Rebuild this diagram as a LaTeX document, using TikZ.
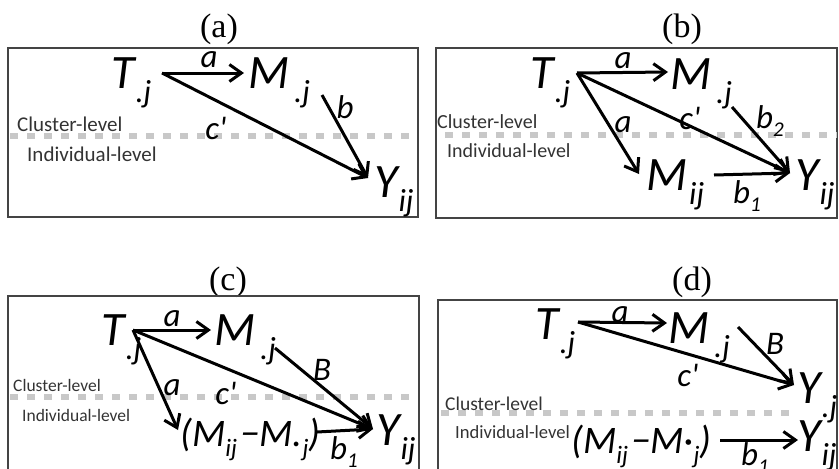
\documentclass[tikz,border=0pt]{standalone}
\usepackage{fontspec}
\setmainfont{Carlito}
\newfontfamily\titlefont{Liberation Serif}
\usetikzlibrary{arrows.meta}
\definecolor{framegray}{HTML}{444444}
\definecolor{dashgray}{HTML}{C8C8C8}
\definecolor{levelgray}{HTML}{333333}
\newcommand\vsub[3][1pt]{#2\kern#1\raisebox{-14pt}{\fontsize{32}{32}\selectfont #3}}
\newcommand\dsub[2]{#1\raisebox{-10pt}{\fontsize{25}{25}\selectfont #2}}
\newcommand\lsub[2]{#1\raisebox{-8pt}{\fontsize{21}{21}\selectfont #2}}
\newcommand\diffMM[1]{(\dsub{M}{ij}\kern3pt\textminus\dsub{M#1}{j})}
\tikzset{
  var/.style={anchor=base west, inner sep=0pt, font=\fontsize{48}{48}\selectfont\itshape},
  dvar/.style={anchor=base west, inner sep=0pt, font=\fontsize{39}{39}\selectfont\itshape},
  lbl/.style={inner sep=0pt, font=\fontsize{33}{33}\selectfont\itshape},
  lvl/.style={anchor=base west, inner sep=0pt, text=levelgray},
  ttl/.style={inner sep=0pt, font=\titlefont\fontsize{34}{34}\selectfont},
  frame/.style={draw=framegray, line width=2pt},
  sep/.style={draw=dashgray, line width=6pt, dash pattern=on 8pt off 9pt},
  arr/.style={line width=3pt, -{Straight Barb[length=12pt,width=17pt]}},
}
\begin{document}
\begin{tikzpicture}[x=1pt,y=-1pt]
\useasboundingbox (0,0) rectangle (839,469);
\clip (0,0) rectangle (839,469);
% ---------------- (a)
\node[ttl] (ta) at (219,29) {(a)};
\draw[frame] (8,48) rectangle (418,217);
\draw[sep] (10,136) -- (417,136);
\node[lvl, font=\fontsize{21}{21}\selectfont] (cla) at (17,131) {Cluster-level};
\node[lvl, font=\fontsize{21}{21}\selectfont] (ila) at (27,161) {Individual-level};
\node[var] (Ta) at (111,88) {\vsub{T}{.j}};
\node[var] (Ma) at (248,88) {\vsub[5pt]{M}{.j}};
\node[var] (Ya) at (374,197) {\vsub{Y}{ij}};
\coordinate (Ta-o) at (162,73);
\coordinate (Ma-i) at (244,73);
\coordinate (Ma-o) at (322,95);
\coordinate (Ya-i) at (368,178);
\draw[arr] (Ta-o) -- (Ma-i);
\draw[arr] (Ta-o) -- (Ya-i);
\draw[arr] (Ma-o) -- (Ya-i);
\node[lbl] (la-a) at (209,60) {a};
\node[lbl] (la-c) at (216,128) {c\textquotesingle};
\node[lbl] (la-b) at (345,107) {b};
% ---------------- (b)
\node[ttl] (tb) at (682,29) {(b)};
\draw[frame] (436,48) rectangle (837,218);
\draw[sep] (445,135) -- (837,135);
\node[lvl, font=\fontsize{20}{20}\selectfont] (clb) at (437,128) {Cluster-level};
\node[lvl, font=\fontsize{20}{20}\selectfont] (ilb) at (447,157) {Individual-level};
\node[var] (Tb) at (530,88) {\vsub{T}{.j}};
\node[var] (Mb) at (670,89) {\vsub[5pt]{M}{.j}};
\node[var] (Mib) at (646,190) {\vsub[2pt]{M}{ij}};
\node[var] (Yb) at (795,190) {\vsub{Y}{ij}};
\coordinate (Tb-o) at (577,73);
\coordinate (Mb-i) at (668,72);
\coordinate (Mb-o) at (732,107);
\coordinate (Mib-i) at (639,174);
\coordinate (Mib-o) at (714,175);
\coordinate (Yb-i) at (790,173);
\draw[arr] (Tb-o) -- (Mb-i);
\draw[arr] (Tb-o) -- (Yb-i);
\draw[arr] (Tb-o) -- (Mib-i);
\draw[arr] (Mb-o) -- (Yb-i);
\draw[arr] (Mib-o) -- (Yb-i);
\node[lbl] (lb-a) at (623,61) {a};
\node[lbl] (lb-a2) at (623,125) {a};
\node[lbl] (lb-c) at (690,118) {c\textquotesingle};
\node[lbl, anchor=base west] (lb-b2) at (756,128) {\lsub{b}{2}};
\node[lbl, anchor=base west] (lb-b1) at (733,203) {\lsub{b}{1}};
% ---------------- (c)
\node[ttl] (tc) at (228,282) {(c)};
\draw[frame] (8,480) -- (8,296) -- (419,296) -- (419,480);
\draw[sep] (10,397) -- (417,397);
\node[lvl, font=\fontsize{17.5}{17.5}\selectfont] (clc) at (13,391) {Cluster-level};
\node[lvl, font=\fontsize{17.5}{17.5}\selectfont] (ilc) at (22,421) {Individual-level};
\node[var] (Tc) at (101,345) {\vsub{T}{.j}};
\node[var] (Mc) at (214,345) {\vsub[5pt]{M}{.j}};
\node[dvar] (Dc) at (180,446) {\diffMM{.}};
\node[var] (Yc) at (376,445) {\vsub{Y}{ij}};
\coordinate (Tc-o) at (133,330);
\coordinate (Mc-i) at (211,330);
\coordinate (Mc-o) at (275,348);
\coordinate (Dc-i) at (178,430);
\coordinate (Dc-o) at (317,432);
\coordinate (Yc-i) at (373,429);
\draw[arr] (Tc-o) -- (Mc-i);
\draw[arr] (Tc-o) -- (Yc-i);
\draw[arr] (Tc-o) -- (Dc-i);
\draw[arr] (Mc-o) -- (Yc-i);
\draw[arr] (Dc-o) -- (Yc-i);
\node[lbl] (lc-a) at (172,319) {a};
\node[lbl] (lc-a2) at (172,388) {a};
\node[lbl] (lc-c) at (226,393) {c\textquotesingle};
\node[lbl] (lc-B) at (322,370) {B};
\node[lbl, anchor=base west] (lc-b1) at (330,459) {\lsub{b}{1}};
% ---------------- (d)
\node[ttl] (td) at (692,282) {(d)};
\draw[frame] (438,480) -- (438,300) -- (837,300) -- (837,480);
\draw[sep] (441,413) -- (792,413);
\node[lvl, font=\fontsize{19.5}{19.5}\selectfont] (cld) at (445,410) {Cluster-level};
\node[lvl, font=\fontsize{18.6}{18.6}\selectfont] (ild) at (455,438) {Individual-level};
\node[var] (Td) at (535,339) {\vsub{T}{.j}};
\node[var] (Md) at (668,343) {\vsub[5pt]{M}{.j}};
\node[var] (Yjd) at (797,403) {\vsub{Y}{.j}};
\node[dvar] (Dd) at (571,453) {\diffMM{\textperiodcentered}};
\node[var] (Yd) at (797,451) {\vsub{Y}{ij}};
\coordinate (Td-o) at (578,322);
\coordinate (Md-i) at (667,323);
\coordinate (Md-o) at (738,327);
\coordinate (Yjd-i) at (794,385);
\coordinate (Dd-o) at (720,440);
\coordinate (Yd-i) at (798,440);
\draw[arr] (Td-o) -- (Md-i);
\draw[arr] (Td-o) -- (Yjd-i);
\draw[arr] (Md-o) -- (Yjd-i);
\draw[arr] (Dd-o) -- (Yd-i);
\node[lbl] (ld-a) at (620,315) {a};
\node[lbl] (ld-c) at (688,375) {c\textquotesingle};
\node[lbl] (ld-B) at (775,344) {B};
\node[lbl, anchor=base west] (ld-b1) at (741,465) {\lsub{b}{1}};
\end{tikzpicture}
\end{document}
